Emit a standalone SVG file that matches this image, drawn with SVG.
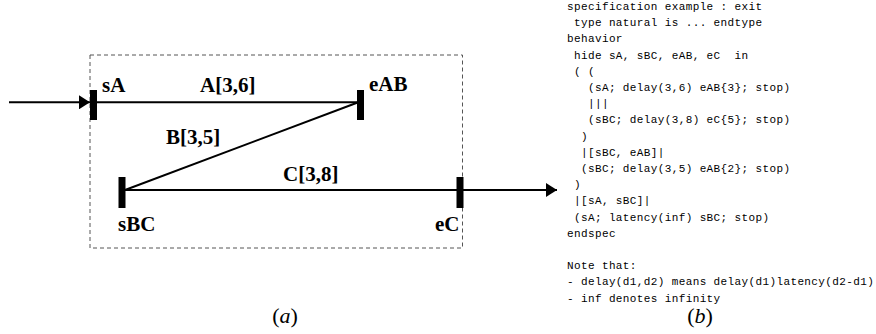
<svg xmlns="http://www.w3.org/2000/svg" width="876" height="334" viewBox="0 0 876 334">
<style>
.lbl{font-family:"Liberation Serif","Times New Roman",serif;font-weight:bold;font-size:21px;fill:#000}
.bar{stroke:#000;stroke-width:7;fill:none}
.ln{stroke:#000;stroke-width:2;fill:none}
.box{stroke:#555;stroke-width:1;fill:none;stroke-dasharray:4 3}
.code{font-family:"Liberation Mono","Courier New",monospace;font-size:11px;letter-spacing:0.38px;fill:#000;white-space:pre}
.cap{font-family:"Liberation Serif","Times New Roman",serif;font-size:22px;fill:#000}
</style>
<defs>
<marker id="ah" viewBox="0 0 11 14" refX="11" refY="7" markerWidth="11" markerHeight="14" markerUnits="userSpaceOnUse" orient="auto">
<path d="M0,0 L11,7 L0,14 z" fill="#000"/>
</marker>
</defs>
<rect class="box" x="90" y="55" width="372.5" height="193"/>
<g id="connectors">
<line class="ln" x1="9" y1="102.3" x2="90" y2="102.3" marker-end="url(#ah)"/>
<line class="ln" x1="93" y1="102.3" x2="360" y2="102.3"/>
<line class="ln" x1="125" y1="190" x2="359" y2="102"/>
<line class="ln" x1="122" y1="190" x2="460" y2="190"/>
<line class="ln" x1="460" y1="190" x2="557" y2="190" marker-end="url(#ah)"/>
<text class="lbl" x="200" y="92">A[3,6]</text>
<text class="lbl" x="166" y="144">B[3,5]</text>
<text class="lbl" x="283" y="181">C[3,8]</text>
</g>
<g id="sA">
<line class="bar" x1="93.5" y1="90" x2="93.5" y2="120"/>
<text class="lbl" x="102" y="92">sA</text>
</g>
<g id="eAB">
<line class="bar" x1="360.5" y1="90" x2="360.5" y2="120"/>
<text class="lbl" x="369" y="91">eAB</text>
</g>
<g id="sBC">
<line class="bar" x1="122" y1="177" x2="122" y2="208"/>
<text class="lbl" x="118" y="231">sBC</text>
</g>
<g id="eC">
<line class="bar" x1="460" y1="177" x2="460" y2="208"/>
<text class="lbl" x="435" y="231">eC</text>
</g>
<text class="cap" x="285" y="323" text-anchor="middle">(<tspan font-style="italic">a</tspan>)</text>
<g id="code" xml:space="preserve">
<text class="code" x="567" y="10">specification example : exit</text>
<text class="code" x="567" y="26.2"> type natural is ... endtype</text>
<text class="code" x="567" y="42.4">behavior</text>
<text class="code" x="567" y="58.6"> hide sA, sBC, eAB, eC  in</text>
<text class="code" x="567" y="74.8"> ( (</text>
<text class="code" x="567" y="91">   (sA; delay(3,6) eAB{3}; stop)</text>
<text class="code" x="567" y="107.2">   |||</text>
<text class="code" x="567" y="123.4">   (sBC; delay(3,8) eC{5}; stop)</text>
<text class="code" x="567" y="139.6">  )</text>
<text class="code" x="567" y="155.8">  |[sBC, eAB]|</text>
<text class="code" x="567" y="172">  (sBC; delay(3,5) eAB{2}; stop)</text>
<text class="code" x="567" y="188.2"> )</text>
<text class="code" x="567" y="204.4"> |[sA, sBC]|</text>
<text class="code" x="567" y="220.6"> (sA; latency(inf) sBC; stop)</text>
<text class="code" x="567" y="236.8">endspec</text>
<text class="code" x="567" y="269.2">Note that:</text>
<text class="code" x="567" y="285.4">- delay(d1,d2) means delay(d1)latency(d2-d1)</text>
<text class="code" x="567" y="301.6">- inf denotes infinity</text>
</g>
<text class="cap" x="700" y="323" text-anchor="middle">(<tspan font-style="italic">b</tspan>)</text>
</svg>
